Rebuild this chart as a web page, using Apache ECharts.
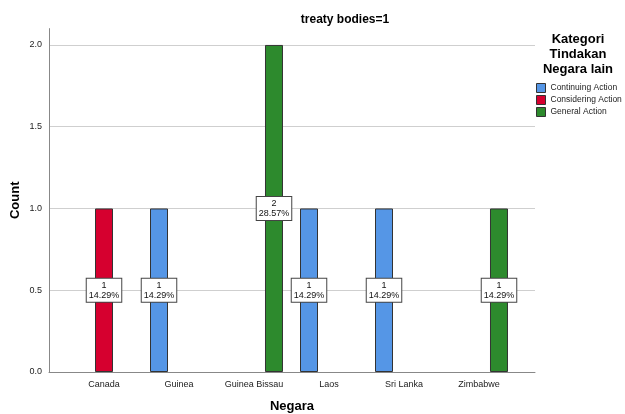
<!DOCTYPE html>
<html>
<head>
<meta charset="utf-8">
<script src="https://cdn.jsdelivr.net/npm/echarts@6/dist/echarts.min.js"></script>
<style>
  html, body { margin: 0; padding: 0; background: #fff; }
  #chart { width: 625px; height: 414px; }
</style>
</head>
<body>
<div id="chart"></div>
<script>
// Countries on the x axis
const categories = ['Canada', 'Guinea', 'Guinea Bissau', 'Laos', 'Sri Lanka', 'Zimbabwe'];
// Counts per action category (null = no bar)
const continuingAction = [null, 1, null, 1, 1, null];
const consideringAction = [1, null, null, null, null, null];
const generalAction = [null, null, 2, null, null, 1];
// Value axis ticks
const yTicks = [0, 0.5, 1.0, 1.5, 2.0];

const seriesNames = ['Continuing Action', 'Considering Action', 'General Action'];
const seriesColors = ['#5596E6', '#D6002F', '#2D8A2D'];
const seriesData = [continuingAction, consideringAction, generalAction];

const total = seriesData.flat().reduce((s, v) => s + (v || 0), 0);

const fontFamily = 'Arial, "Liberation Sans", sans-serif';

const chart = echarts.init(document.getElementById('chart'), null, { renderer: 'canvas' });

const plotTop = 28.6, plotBottom = 42;

const option = {
  animation: false,
  backgroundColor: '#fff',
  textStyle: { fontFamily },
  title: {
    text: 'treaty bodies=1',
    left: 340, top: 9, textAlign: 'center',
    textStyle: { fontSize: 12, fontWeight: 'bold', color: '#000', fontFamily }
  },
  legend: {
    orient: 'vertical',
    left: 531, top: 78,
    itemWidth: 9, itemHeight: 9, itemGap: 2,
    icon: 'rect',
    itemStyle: { borderColor: '#333', borderWidth: 1 },
    textStyle: { fontSize: 8.5, color: '#222', fontFamily },
    data: seriesNames
  },
  graphic: [{
    type: 'text',
    x: 578, y: 32,
    style: {
      text: 'Kategori\nTindakan\nNegara lain',
      textAlign: 'center',
      font: 'bold 13px ' + fontFamily,
      lineHeight: 15,
      fill: '#000'
    }
  }],
  grid: [
    { left: 49, right: 90, top: plotTop, bottom: plotBottom, outerBoundsMode: 'none', containLabel: false },
    { left: 66.5, right: 108.5, top: plotTop, bottom: plotBottom, outerBoundsMode: 'none', containLabel: false }
  ],
  xAxis: [
    {
      gridIndex: 0, type: 'category', data: [''],
      axisLine: { show: true, lineStyle: { color: '#888', width: 1 } },
      axisTick: { show: false }, axisLabel: { show: false },
      name: 'Negara', nameLocation: 'middle', nameGap: 28,
      nameTextStyle: { fontSize: 13, fontWeight: 'bold', color: '#000', fontFamily }
    },
    {
      gridIndex: 1, type: 'category', data: categories,
      axisLine: { show: false }, axisTick: { show: false },
      axisLabel: { interval: 0, fontSize: 9, color: '#222', margin: 8, fontFamily }
    }
  ],
  yAxis: [
    {
      gridIndex: 0, type: 'value', min: 0, max: 2.1, interval: 0.5,
      axisLine: { show: true, lineStyle: { color: '#888', width: 1 } },
      axisTick: { show: false },
      axisLabel: {
        fontSize: 9, color: '#222', margin: 7, showMaxLabel: false,
        formatter: v => (yTicks.includes(v) ? v.toFixed(1) : '')
      },
      splitLine: { show: true, showMaxLine: false, lineStyle: { color: '#cfcfcf', width: 1 } },
      name: 'Count', nameLocation: 'middle', nameGap: 27, nameRotate: 90,
      nameMoveOverlap: false,
      nameTextStyle: { fontSize: 13, fontWeight: 'bold', color: '#000', fontFamily }
    },
    {
      gridIndex: 1, type: 'value', min: 0, max: 2.1, interval: 0.5, show: false,
      splitLine: { show: false }
    }
  ],
  series: seriesNames.map((name, i) => ({
    name,
    type: 'bar',
    xAxisIndex: 1, yAxisIndex: 1,
    data: seriesData[i],
    barWidth: 18,
    barGap: '11.1%',
    itemStyle: { color: seriesColors[i], borderColor: '#333', borderWidth: 1 },
    label: {
      show: true,
      position: 'inside',
      formatter: p => p.value + '\n' + (p.value / total * 100).toFixed(2) + '%',
      fontSize: 9, lineHeight: 10, color: '#111', fontFamily,
      backgroundColor: '#fff',
      borderColor: '#444', borderWidth: 1,
      padding: [2, 2, 1, 2], align: 'center'
    }
  }))
};

chart.setOption(option);
</script>
</body>
</html>
